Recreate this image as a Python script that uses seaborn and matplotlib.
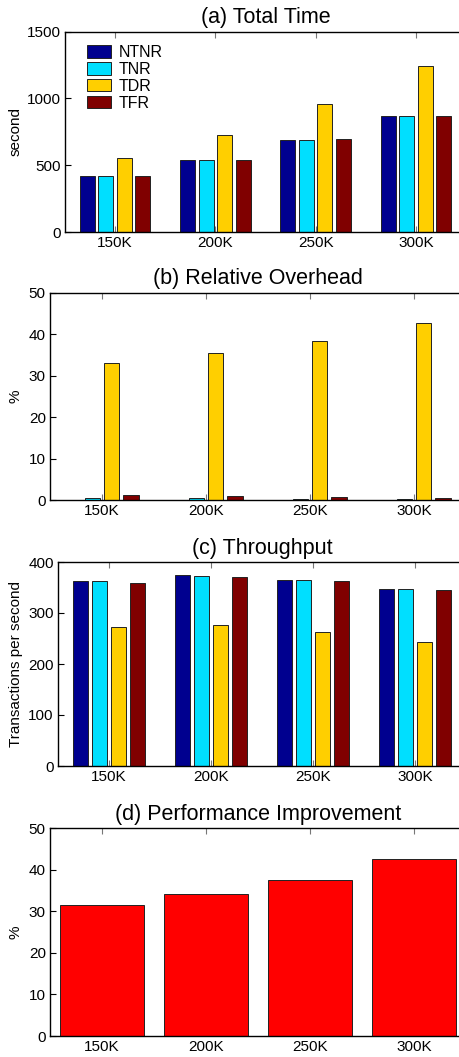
import pandas as pd
import numpy as np
import matplotlib
matplotlib.use("Agg")
import matplotlib.pyplot as plt
import seaborn as sns

# data
sizes = ["150K", "200K", "250K", "300K"]
methods = ["NTNR", "TNR", "TDR", "TFR"]

total_time = {
    "NTNR": [417, 537, 690, 870],
    "TNR": [417, 540, 692, 872],
    "TDR": [552, 727, 955, 1240],
    "TFR": [422, 542, 695, 872],
}
overhead = {
    "NTNR": [0.05, 0.05, 0.03, 0.03],
    "TNR": [0.4, 0.56, 0.25, 0.25],
    "TDR": [33.0, 35.4, 38.3, 42.8],
    "TFR": [1.2, 0.9, 0.65, 0.4],
}
throughput = {
    "NTNR": [363, 375, 364.6, 348],
    "TNR": [362.5, 372.5, 364, 347],
    "TDR": [273, 277, 263, 243],
    "TFR": [359, 371, 362, 346],
}
improvement = [31.4, 34.1, 37.4, 42.5]

colores = ["#00008f", "#00dfff", "#ffcf00", "#800000"]

sns.set_style("ticks")
plt.rcParams["font.family"] = ["Liberation Sans", "DejaVu Sans"]
plt.rcParams["font.size"] = 11
plt.rcParams["text.color"] = "black"
plt.rcParams["axes.labelcolor"] = "black"


def a_tabla(d):
    filas = []
    for m in methods:
        for s, v in zip(sizes, d[m]):
            filas.append({"size": s, "method": m, "value": v})
    return pd.DataFrame(filas)


def estilo(ax, titulo, ylabel, ymax, paso, left_px, width_px):
    ax.set_xlim(-0.5, 3.5)
    ax.set_ylim(0, ymax)
    ax.set_yticks(np.arange(0, ymax + 1, paso))
    ax.set_title(titulo, fontsize=15.5, pad=6, color="black")
    ax.set_xlabel("")
    ax.set_ylabel(ylabel, fontsize=11)
    ax.yaxis.set_label_coords((23 - left_px) / width_px, 0.5)
    ax.tick_params(direction="in", top=True, right=True, length=4,
                   width=0.8, labelsize=11, colors="black", pad=3)
    ax.tick_params(axis="x", color="#777777")
    for sp in ax.spines.values():
        sp.set_visible(True)
        sp.set_linewidth(1.0)
        sp.set_color("black")


fig = plt.figure(figsize=(4.59, 10.57), dpi=100)

W, H = 459, 1057
right_px = 466
cajas = [(65, 31.7, 232), (50, 292.7, 500), (58, 562, 766), (50, 828, 1036)]
axes = []
for left, top, bottom in cajas:
    axes.append(fig.add_axes([left / W, 1 - bottom / H, (right_px - left) / W,
                              (bottom - top) / H]))

paneles = [
    (total_time, "(a) Total Time", "second", 1500, 500),
    (overhead, "(b) Relative Overhead", "%", 50, 10),
    (throughput, "(c) Throughput", "Transactions per second", 400, 100),
]

for i, (datos, titulo, ylabel, ymax, paso) in enumerate(paneles):
    ax = axes[i]
    df = a_tabla(datos)
    sns.barplot(data=df, x="size", y="value", hue="method", order=sizes,
                hue_order=methods, palette=colores, saturation=1,
                width=0.74, gap=0.19, edgecolor="#222222", linewidth=0.7,
                errorbar=None, ax=ax)
    left = cajas[i][0]
    estilo(ax, titulo, ylabel, ymax, paso, left, right_px - left)
    if i == 0:
        ax.legend(loc="upper left", bbox_to_anchor=(0.04, 0.965), frameon=False,
                  fontsize=11.5, handlelength=1.45, handleheight=0.8,
                  handletextpad=0.5, labelspacing=0.12, borderaxespad=0)
    else:
        leg = ax.get_legend()
        if leg is not None:
            leg.remove()

ax = axes[3]
sns.barplot(x=sizes, y=improvement, color="#ff0000", saturation=1, width=0.8,
            edgecolor="#222222", linewidth=0.7, errorbar=None, ax=ax)
estilo(ax, "(d) Performance Improvement", "%", 50, 10, 50, right_px - 50)

fig.savefig("out.png", dpi=100)
